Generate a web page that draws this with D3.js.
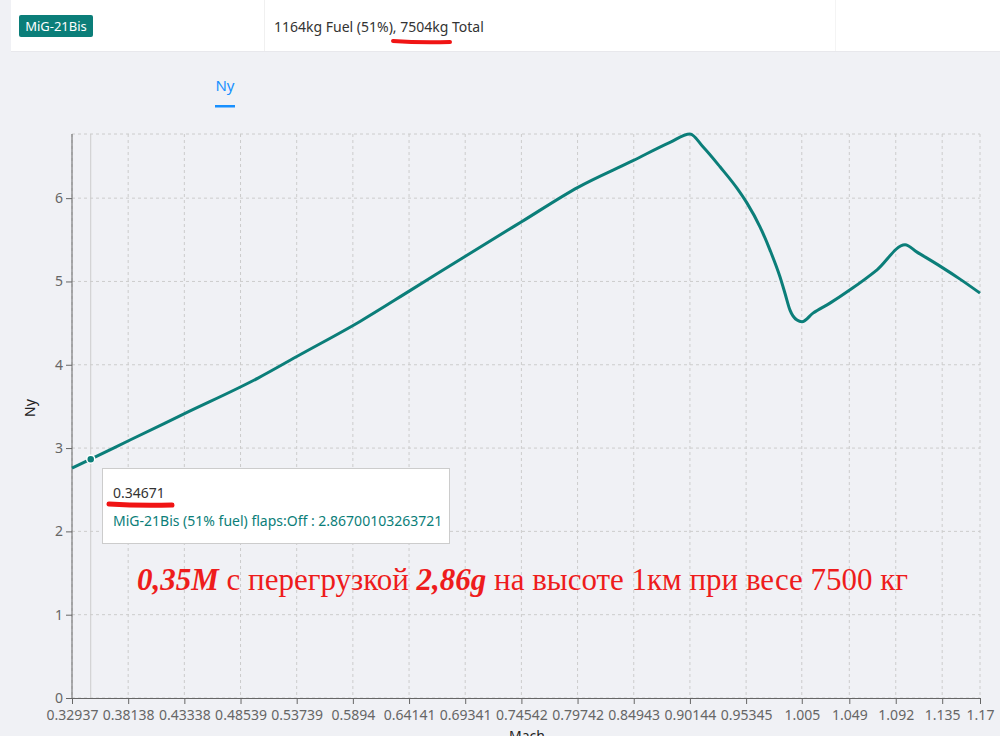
<!DOCTYPE html>
<html>
<head>
<meta charset="utf-8">
<script src="https://cdn.jsdelivr.net/npm/d3@7"></script>
<style>
  html, body { margin: 0; padding: 0; background: #f0f1f5; }
  svg { display: block; font-family: "Noto Sans", "Open Sans", sans-serif; }
</style>
</head>
<body>
<svg id="chart" width="1000" height="736"></svg>
<script>
// Mach / Ny points
const mach = [0.32937, 0.34671, 0.3831, 0.4340, 0.5016, 0.5404, 0.5960, 0.6423, 0.6932, 0.7460,
  0.7978, 0.8487, 0.8830, 0.9015, 0.9135, 0.9293, 0.9450, 0.9543, 0.9663, 0.9756, 0.9848,
  0.9895, 0.9941, 1.0006, 1.0052, 1.0154, 1.0311, 1.0497, 1.0747, 1.1006, 1.1117, 1.1330,
  1.1515, 1.17]
const ny = [2.76, 2.867, 3.097, 3.416, 3.84, 4.12, 4.52, 4.89, 5.30, 5.72,
  6.13, 6.45, 6.67, 6.77, 6.616, 6.376, 6.12, 5.94, 5.656, 5.376, 5.056,
  4.856, 4.656, 4.536, 4.516, 4.62, 4.74, 4.90, 5.14, 5.44, 5.352, 5.184,
  5.028, 4.86]

const xTicks = [0.32937, 0.38138, 0.43338, 0.48539, 0.53739, 0.5894, 0.64141, 0.69341, 0.74542,
  0.79742, 0.84943, 0.90144, 0.95345, 1.005, 1.049, 1.092, 1.135, 1.17]
const yTicks = [0, 1, 2, 3, 4, 5, 6]

const activeMach = 0.34671
const activeNy = 2.86700103263721

const teal = '#0b7e79'
const svg = d3.select('#chart')

// header card
svg.append('rect').attr('x', 11).attr('y', 0).attr('width', 989).attr('height', 51).attr('fill', '#fff')
svg.append('line').attr('x1', 11).attr('x2', 1000).attr('y1', 51.5).attr('y2', 51.5).attr('stroke', '#e8e8ec')
svg.append('line').attr('x1', 264.5).attr('x2', 264.5).attr('y1', 0).attr('y2', 51).attr('stroke', '#f0f0f0')
svg.append('line').attr('x1', 835.5).attr('x2', 835.5).attr('y1', 0).attr('y2', 51).attr('stroke', '#f4f4f4')
svg.append('rect').attr('x', 19).attr('y', 15).attr('width', 74).attr('height', 22).attr('rx', 2).attr('fill', teal)
svg.append('text').attr('x', 56).attr('y', 31).attr('text-anchor', 'middle')
  .attr('fill', '#fff').attr('font-size', 13).text('MiG-21Bis')
svg.append('text').attr('x', 274).attr('y', 32).attr('fill', '#333').attr('font-size', 14)
  .text('1164kg Fuel (51%), 7504kg Total')
svg.append('path').attr('d', 'M393,41 Q420,43 450,42').attr('stroke', '#f01414')
  .attr('stroke-width', 4).attr('stroke-linecap', 'round').attr('fill', 'none')

// tab
svg.append('text').attr('x', 225).attr('y', 91).attr('text-anchor', 'middle')
  .attr('fill', '#1890ff').attr('font-size', 15).text('Ny')
svg.append('rect').attr('x', 215).attr('y', 105).attr('width', 20).attr('height', 2.5).attr('fill', '#1890ff')

// plot
const pLeft = 72, pRight = 980, pTop = 134, pBottom = 698
const x = d3.scaleLinear().domain([d3.min(mach), d3.max(mach)]).range([pLeft, pRight])
const y = d3.scaleLinear().domain([0, d3.max(ny)]).range([pBottom, pTop])

const grid = svg.append('g').attr('stroke', '#ccc').attr('stroke-dasharray', '3 3')
grid.selectAll('.v').data(xTicks).join('line')
  .attr('x1', d => x(d)).attr('x2', d => x(d)).attr('y1', pTop).attr('y2', pBottom)
grid.selectAll('.h').data(yTicks.concat([d3.max(ny)])).join('line')
  .attr('x1', pLeft).attr('x2', pRight).attr('y1', d => y(d)).attr('y2', d => y(d))

const xAxis = svg.append('g').attr('transform', `translate(0,${pBottom})`)
  .call(d3.axisBottom(x).tickValues(xTicks).tickFormat(d => String(d)).tickSizeOuter(0))
const yAxis = svg.append('g').attr('transform', `translate(${pLeft},0)`)
  .call(d3.axisLeft(y).tickValues(yTicks).tickFormat(d3.format('d')).tickSizeOuter(0))
;[xAxis, yAxis].forEach(a => {
  a.select('.domain').attr('stroke', '#666')
  a.selectAll('.tick line').attr('stroke', '#666')
  a.selectAll('.tick text').attr('fill', '#666').attr('font-size', 14)
    .attr('font-family', '"Noto Sans", sans-serif')
})
xAxis.selectAll('.tick text').attr('dy', '0.9em')
yAxis.select('.domain').attr('d', `M0,${pBottom}V${pTop}`)

svg.append('text').attr('x', 527).attr('y', 741).attr('text-anchor', 'middle')
  .attr('fill', '#222').attr('font-size', 14).text('Mach')
svg.append('text').attr('transform', 'translate(35,408) rotate(-90)').attr('text-anchor', 'middle')
  .attr('fill', '#222').attr('font-size', 14).text('Ny')

// cursor
svg.append('line').attr('x1', x(activeMach)).attr('x2', x(activeMach)).attr('y1', pTop).attr('y2', pBottom)
  .attr('stroke', '#ccc')

const pts = mach.map((m, i) => [m, ny[i]])
svg.append('path').datum(pts)
  .attr('d', d3.line().x(d => x(d[0])).y(d => y(d[1])).curve(d3.curveMonotoneX))
  .attr('fill', 'none').attr('stroke', teal).attr('stroke-width', 3)

svg.append('circle').attr('cx', x(activeMach)).attr('cy', y(activeNy)).attr('r', 4)
  .attr('fill', teal).attr('stroke', '#fff').attr('stroke-width', 1.5)

// tooltip
svg.append('rect').attr('x', 102.5).attr('y', 468.5).attr('width', 347).attr('height', 75)
  .attr('fill', '#fff').attr('stroke', '#ccc')
svg.append('text').attr('x', 113).attr('y', 498).attr('fill', '#333').attr('font-size', 14).text(String(activeMach))
svg.append('text').attr('x', 113).attr('y', 526).attr('fill', teal).attr('font-size', 14)
  .text('MiG-21Bis (51% fuel) flaps:Off : ' + activeNy)
svg.append('path').attr('d', 'M109,504 Q140,506 172,505').attr('stroke', '#f01414')
  .attr('stroke-width', 5).attr('stroke-linecap', 'round').attr('fill', 'none')

// annotation
const note = svg.append('text').attr('x', 137).attr('y', 590).attr('fill', '#ee1c1c')
  .attr('font-size', 31).attr('font-family', '"Liberation Serif", "DejaVu Serif", serif')
note.append('tspan').attr('font-weight', 'bold').attr('font-style', 'italic').text('0,35M')
note.append('tspan').text(' с перегрузкой ')
note.append('tspan').attr('font-weight', 'bold').attr('font-style', 'italic').text('2,86g')
note.append('tspan').text(' на высоте 1км при весе 7500 кг')
</script>
</body>
</html>
